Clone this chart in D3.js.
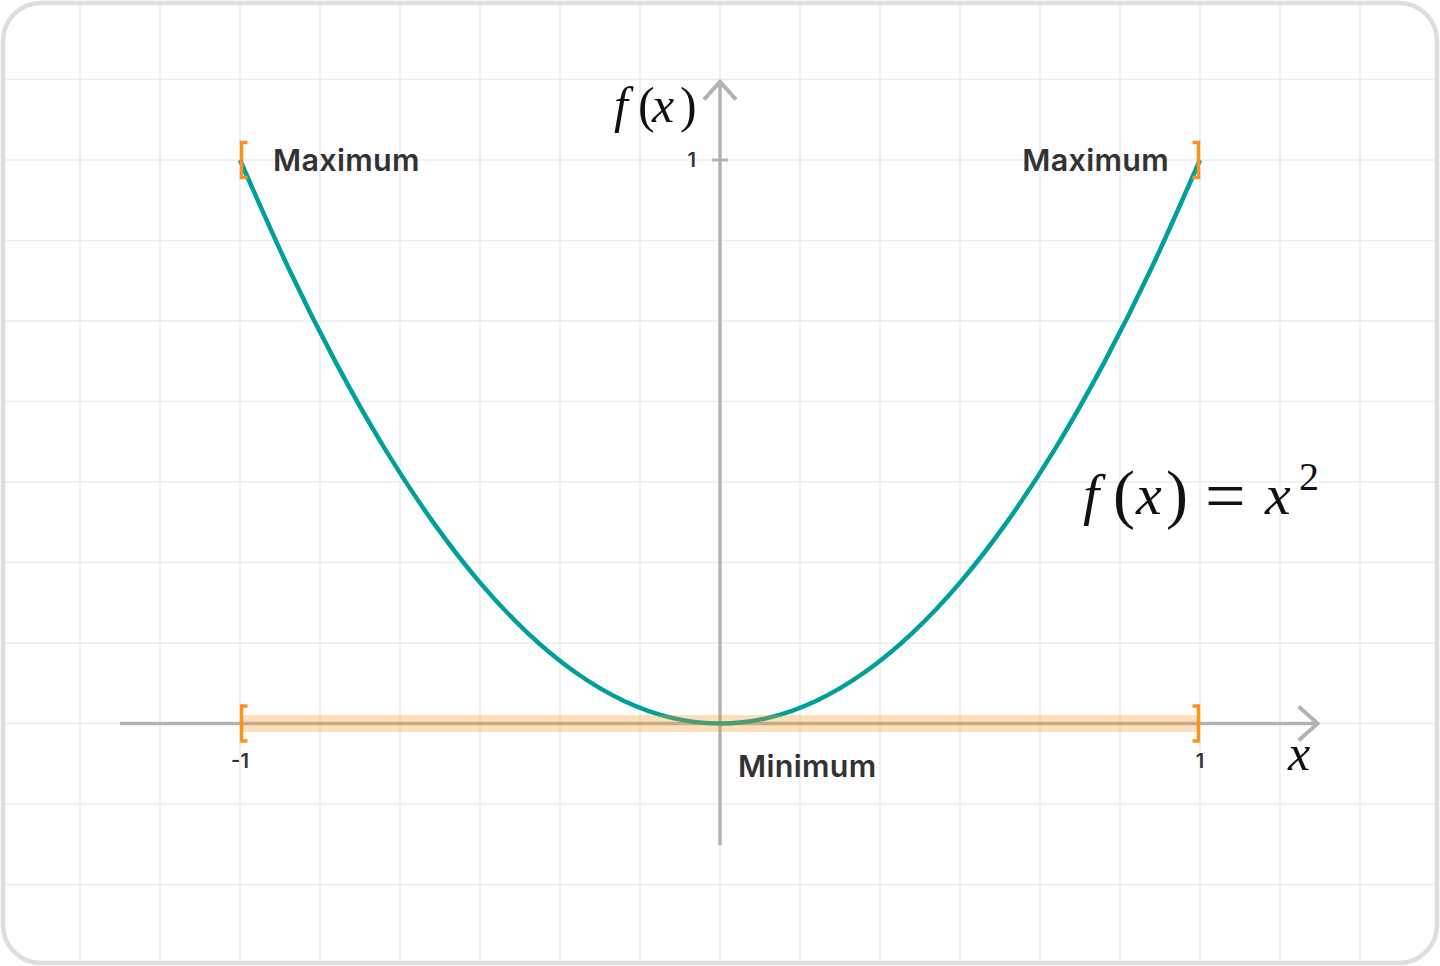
<!DOCTYPE html>
<html>
<head>
<meta charset="utf-8">
<script src="https://cdn.jsdelivr.net/npm/d3@7"></script>
<style>
  html, body { margin: 0; padding: 0; background: #fff; }
  svg { display: block; }
</style>
</head>
<body>
<svg id="chart" width="1440" height="966"></svg>
<script>
// ---- data ----
const curveX = [-1, -0.9, -0.8, -0.7, -0.6, -0.5, -0.4, -0.3, -0.2, -0.1, 0, 0.1, 0.2, 0.3, 0.4, 0.5, 0.6, 0.7, 0.8, 0.9, 1];
const curveY = [1, 0.81, 0.64, 0.49, 0.36, 0.25, 0.16, 0.09, 0.04, 0.01, 0, 0.01, 0.04, 0.09, 0.16, 0.25, 0.36, 0.49, 0.64, 0.81, 1];
const xTickValues = [-1, 1];
const xTickLabels = ["-1", "1"];
const yTickValues = [1];
const yTickLabels = ["1"];
const domainX = [-1, 1];          // highlighted domain interval
const maxPoints = [[-1, 1], [1, 1]];
const minPoint = [0, 0];
const annotationTexts = ["Maximum", "Maximum", "Minimum"];

// ---- layout ----
const W = 1440, H = 966;
const svg = d3.select("#chart");
const x = d3.scaleLinear().domain([-1, 1]).range([240, 1200]);
const y = d3.scaleLinear().domain([0, 1]).range([723.5, 160]);

const gridXStep = 1 / 6, gridYStep = 1 / 7;
const orange = "#f7941d", axisGray = "#b3b3b3", teal = "#00a09a", labelCol = "#333333";

// clip to rounded card
svg.append("defs").append("clipPath").attr("id", "card")
  .append("rect").attr("x", 3).attr("y", 3).attr("width", W - 6).attr("height", H - 6).attr("rx", 38);

const gGrid = svg.append("g").attr("clip-path", "url(#card)");
const gx = d3.range(-8, 9).map(k => k * gridXStep);
const gy = d3.range(-2, 9).map(k => k * gridYStep);
gGrid.selectAll("line.gv").data(gx).join("line")
  .attr("x1", d => x(d)).attr("x2", d => x(d)).attr("y1", 0).attr("y2", H)
  .attr("stroke", "#ededed").attr("stroke-width", 1.5);
gGrid.selectAll("line.gh").data(gy).join("line")
  .attr("y1", d => y(d)).attr("y2", d => y(d)).attr("x1", 0).attr("x2", W)
  .attr("stroke", "#ededed").attr("stroke-width", 1.5);

// axes
const axisX0 = -1.25, axisX1 = 1.245, axisY0 = -0.216, axisY1 = 1.139;
const gAx = svg.append("g");
gAx.append("line").attr("x1", x(axisX0)).attr("x2", x(axisX1) - 2).attr("y1", y(0)).attr("y2", y(0))
  .attr("stroke", axisGray).attr("stroke-width", 3.5);
gAx.append("line").attr("x1", x(0)).attr("x2", x(0)).attr("y1", y(axisY0)).attr("y2", y(axisY1) + 2)
  .attr("stroke", axisGray).attr("stroke-width", 3.5);
// arrow heads
const ax = x(axisX1), ay = y(0);
gAx.append("path").attr("d", `M${ax - 19},${ay - 17} L${ax},${ay} L${ax - 19},${ay + 17}`)
  .attr("fill", "none").attr("stroke", axisGray).attr("stroke-width", 4).attr("stroke-linecap", "butt");
const bx = x(0), by = y(axisY1);
gAx.append("path").attr("d", `M${bx - 16},${by + 18} L${bx},${by} L${bx + 16},${by + 18}`)
  .attr("fill", "none").attr("stroke", axisGray).attr("stroke-width", 4);

// y tick
gAx.selectAll("line.yt").data(yTickValues).join("line")
  .attr("x1", x(0) - 8).attr("x2", x(0) + 8).attr("y1", d => y(d)).attr("y2", d => y(d))
  .attr("stroke", axisGray).attr("stroke-width", 3);
gAx.selectAll("text.ytl").data(yTickValues).join("text")
  .attr("x", x(0) - 24).attr("y", d => y(d) + 7)
  .attr("text-anchor", "end").attr("font-family", "Inter, sans-serif").attr("font-weight", 600)
  .attr("font-size", 20).attr("fill", labelCol)
  .text((d, i) => yTickLabels[i]);
gAx.selectAll("text.xtl").data(xTickValues).join("text")
  .attr("x", d => x(d)).attr("y", y(0) + 44)
  .attr("text-anchor", "middle").attr("font-family", "Inter, sans-serif").attr("font-weight", 600)
  .attr("font-size", 20).attr("fill", labelCol)
  .text((d, i) => xTickLabels[i]);

// curve
const line = d3.line().x(d => x(d[0])).y(d => y(d[1])).curve(d3.curveNatural);
svg.append("path").datum(curveX.map((v, i) => [v, curveY[i]]))
  .attr("d", line).attr("fill", "none").attr("stroke", teal).attr("stroke-width", 4.5);

// domain band
svg.append("rect").attr("x", x(domainX[0])).attr("width", x(domainX[1]) - x(domainX[0]))
  .attr("y", y(0) - 8.5).attr("height", 17).attr("fill", orange).attr("opacity", 0.3);

// brackets
function bracket(px, py, dir) { // dir 1 => "[" , -1 => "]"
  const h = 17.5, s = 6 * dir;
  return `M${px + s},${py - h} L${px},${py - h} L${px},${py + h} L${px + s},${py + h}`;
}
const bracketData = [
  [domainX[0], 0, 1], [domainX[1], 0, -1],
  [maxPoints[0][0], maxPoints[0][1], 1], [maxPoints[1][0], maxPoints[1][1], -1]
];
svg.selectAll("path.br").data(bracketData).join("path")
  .attr("d", d => bracket(x(d[0]) + (d[2] > 0 ? 1.5 : -1.5), y(d[1]), d[2]))
  .attr("fill", "none").attr("stroke", orange).attr("stroke-width", 3.5);

// annotations
const lab = svg.append("g").attr("font-family", "Inter, sans-serif").attr("font-weight", 600)
  .attr("font-size", 30.5).attr("letter-spacing", 0.3).attr("fill", labelCol);
lab.append("text").attr("x", x(maxPoints[0][0]) + 33).attr("y", y(maxPoints[0][1]) + 10.5).text(annotationTexts[0]);
lab.append("text").attr("x", x(maxPoints[1][0]) - 31).attr("y", y(maxPoints[1][1]) + 10.5)
  .attr("text-anchor", "end").text(annotationTexts[1]);
lab.append("text").attr("x", x(minPoint[0]) + 18).attr("y", y(minPoint[1]) + 53).text(annotationTexts[2]);

// math labels
const serif = "'Liberation Serif', 'Times New Roman', serif";
function mathText(parts, size) {
  const g = svg.append("g").attr("font-family", serif).attr("font-size", size).attr("fill", "#111");
  parts.forEach(p => {
    g.append("text").attr("x", p.x).attr("y", p.y)
      .attr("font-style", p.it ? "italic" : "normal")
      .attr("font-size", p.size || size)
      .text(p.t);
  });
}
// f(x) at y axis
mathText([
  {t: "f", x: 614, y: 122, it: true},
  {t: "(", x: 638, y: 122},
  {t: "x", x: 652, y: 122, it: true},
  {t: ")", x: 680, y: 122}
], 50);
// x at x axis
mathText([{t: "x", x: 1288, y: 770, it: true}], 50);
// formula
mathText([
  {t: "f", x: 1083, y: 514, it: true},
  {t: "(", x: 1113, y: 516, size: 66},
  {t: "x", x: 1136, y: 514, it: true},
  {t: ")", x: 1166, y: 516, size: 66},
  {t: "=", x: 1205, y: 520, size: 72},
  {t: "x", x: 1265, y: 514, it: true},
  {t: "2", x: 1299, y: 490, size: 40}
], 58);

// card border
svg.append("rect").attr("x", 3).attr("y", 3).attr("width", W - 6).attr("height", H - 6).attr("rx", 38)
  .attr("fill", "none").attr("stroke", "#dedede").attr("stroke-width", 4.5);
</script>
</body>
</html>
